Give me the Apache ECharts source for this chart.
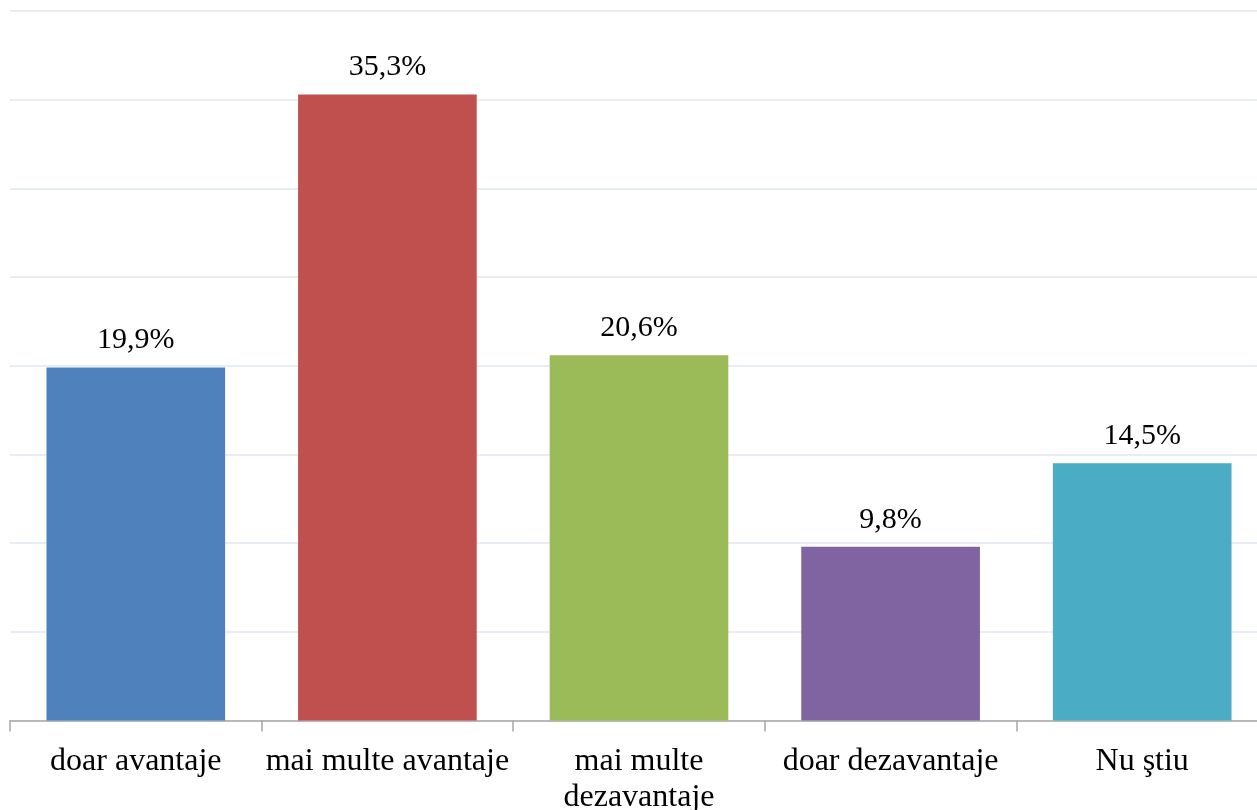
<!DOCTYPE html>
<html>
<head>
<meta charset="utf-8">
<script src="https://cdn.jsdelivr.net/npm/echarts@6/dist/echarts.min.js"></script>
<style>
html,body{margin:0;padding:0;background:#fff;overflow:hidden;width:1257px;height:810px;}
#chart{width:1268px;height:810px;}
</style>
</head>
<body>
<div id="chart"></div>
<script>
const categories = ['doar avantaje', 'mai multe avantaje', 'mai multe\ndezavantaje', 'doar dezavantaje', 'Nu ştiu'];
const values = [19.9, 35.3, 20.6, 9.8, 14.5];
const valueLabels = ['19,9%', '35,3%', '20,6%', '9,8%', '14,5%'];
const colors = ['#4F81BD', '#C0504D', '#9BBB59', '#8064A2', '#4BACC6'];

const chart = echarts.init(document.getElementById('chart'), null, {renderer: 'canvas'});
chart.setOption({
  animation: false,
  grid: {left: 10, right: 0, top: 11, bottom: 89.4, containLabel: false, outerBoundsMode: 'none'},
  xAxis: {
    type: 'category',
    data: categories,
    axisLine: {lineStyle: {color: '#a6a6a6', width: 1.5}},
    axisTick: {show: true, length: 11, lineStyle: {color: '#a6a6a6', width: 1.5}},
    axisLabel: {
      interval: 0,
      margin: 23,
      color: '#000',
      fontFamily: 'Liberation Serif',
      fontSize: 32,
      lineHeight: 36
    }
  },
  yAxis: {
    type: 'value',
    min: 0,
    max: 40,
    interval: 5,
    axisLabel: {show: false},
    axisLine: {show: false},
    axisTick: {show: false},
    splitLine: {lineStyle: {color: '#e1e7f2', width: 1.5}}
  },
  series: [{
    type: 'bar',
    barWidth: '71%',
    data: values.map((v, i) => ({value: v, itemStyle: {color: colors[i]}})),
    label: {
      show: true,
      position: 'top',
      distance: 12,
      color: '#000',
      fontFamily: 'Liberation Serif',
      fontSize: 30,
      formatter: p => valueLabels[p.dataIndex]
    }
  }]
});
</script>
</body>
</html>
